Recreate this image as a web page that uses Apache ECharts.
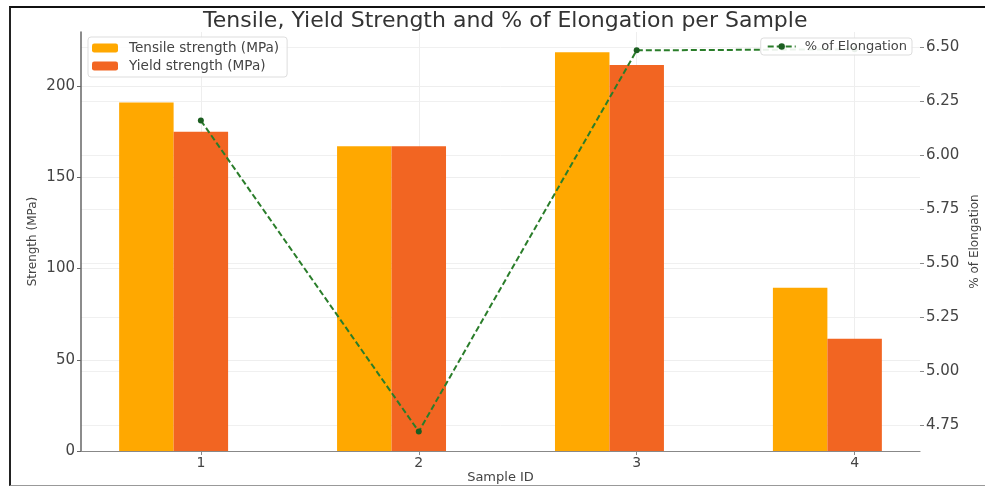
<!DOCTYPE html>
<html><head><meta charset="utf-8">
<script src="https://cdn.jsdelivr.net/npm/echarts@6/dist/echarts.min.js"></script>
<style>
html,body{margin:0;padding:0;background:#fff;}
#chart{width:985px;height:487px;position:absolute;left:0;top:0;}
#frame{position:absolute;left:9px;top:6px;width:976px;height:480px;border-top:2px solid #111;border-left:2px solid #222;border-bottom:1px solid #999;pointer-events:none;box-sizing:border-box;}
</style>
</head><body><div id="chart"></div><div id="frame"></div>
<script>
const sampleIds = [1, 2, 3, 4];
const tensile = [191, 167, 218.5, 89.5];
const yieldStrength = [175, 167, 211.5, 61.5];
const elongation = [6.16, 4.72, 6.485, 6.49];
const strengthTicks = [0, 50, 100, 150, 200];
const elongTicks = [4.75, 5.00, 5.25, 5.50, 5.75, 6.00, 6.25, 6.50];

const FONT = 'DejaVu Sans';
const pair = arr => arr.map((v, i) => [sampleIds[i], v]);

const chart = echarts.init(document.getElementById('chart'), null, {renderer: 'canvas'});
chart.setOption({
  animation: false,
  backgroundColor: '#fff',
  textStyle: {fontFamily: FONT},
  title: {
    text: 'Tensile, Yield Strength and % of Elongation per Sample',
    left: 198, top: 5,
    textStyle: {fontFamily: FONT, fontSize: 22, fontWeight: 'normal', color: '#333'}
  },
  grid: {left: 81, right: 65, top: 32, bottom: 36, containLabel: false, outerBoundsMode: 'none'},
  legend: [{
    data: ['Tensile strength (MPa)', 'Yield strength (MPa)'],
    orient: 'vertical', left: 88, top: 37,
    itemWidth: 26, itemHeight: 9, itemGap: 4,
    backgroundColor: 'rgba(255,255,255,0.85)', borderColor: '#ddd', borderWidth: 1, borderRadius: 3,
    padding: [4, 8, 4, 4],
    textStyle: {fontFamily: FONT, fontSize: 13.6, color: '#444', padding: [0, 0, 0, 6]}
  }, {
    data: ['% of Elongation'],
    right: 73, top: 38,
    itemWidth: 28, itemHeight: 8,
    backgroundColor: 'rgba(255,255,255,0.9)', borderColor: '#ddd', borderWidth: 1, borderRadius: 3,
    padding: [2, 5, 2, 6],
    textStyle: {fontFamily: FONT, fontSize: 13, color: '#444', padding: [0, 0, 0, 4]}
  }],
  xAxis: {
    type: 'value', min: 0.45, max: 4.3,
    name: 'Sample ID', nameLocation: 'middle', nameGap: 20, nameMoveOverlap: false,
    nameTextStyle: {fontFamily: FONT, fontSize: 13, color: '#444'},
    axisLine: {show: true, lineStyle: {color: '#888', width: 1.2}},
    axisTick: {show: true, customValues: sampleIds, length: 4, lineStyle: {color: '#888'}},
    axisLabel: {customValues: sampleIds, fontFamily: FONT, fontSize: 14, color: '#444', margin: 5},
    splitLine: {show: true, lineStyle: {color: '#eeeeee', width: 1}}
  },
  yAxis: [{
    type: 'value', min: 0, max: 229.6, position: 'left',
    name: 'Strength (MPa)', nameLocation: 'middle', nameGap: 42, nameRotate: 90, nameMoveOverlap: false,
    nameTextStyle: {fontFamily: FONT, fontSize: 12, color: '#444'},
    axisLine: {show: true, lineStyle: {color: '#666', width: 1.5}},
    axisTick: {show: true, customValues: strengthTicks, length: 4, lineStyle: {color: '#666'}},
    axisLabel: {customValues: strengthTicks, fontFamily: FONT, fontSize: 15, color: '#444', margin: 6},
    splitLine: {show: true, lineStyle: {color: '#eeeeee', width: 1}}
  }, {
    type: 'value', min: 4.63, max: 6.57, position: 'right',
    name: '% of Elongation', nameLocation: 'middle', nameGap: 49, nameRotate: 90, nameMoveOverlap: false,
    nameTextStyle: {fontFamily: FONT, fontSize: 12, color: '#444'},
    axisLine: {show: false},
    axisTick: {show: true, customValues: elongTicks, length: 4, lineStyle: {color: '#888'}},
    axisLabel: {customValues: elongTicks, formatter: v => v.toFixed(2), fontFamily: FONT, fontSize: 15, color: '#444', margin: 6},
    splitLine: {show: true, lineStyle: {color: '#f0f0f0', width: 1}}
  }],
  series: [{
    name: 'Tensile strength (MPa)', type: 'bar', yAxisIndex: 0,
    data: pair(tensile), barWidth: '25%', barGap: '0%',
    itemStyle: {color: '#FFA800'}
  }, {
    name: 'Yield strength (MPa)', type: 'bar', yAxisIndex: 0,
    data: pair(yieldStrength), barWidth: '25%', barGap: '0%',
    itemStyle: {color: '#F26522'}
  }, {
    name: 'spacer', type: 'bar', yAxisIndex: 0,
    data: [], barWidth: '25%', barGap: '0%'
  }, {
    name: '% of Elongation', type: 'line', yAxisIndex: 1,
    data: pair(elongation), z: 3,
    symbol: 'circle', symbolSize: 6,
    lineStyle: {color: '#2A7D2A', width: 2, type: [6, 3]},
    itemStyle: {color: '#1B5E20'}
  }]
});
</script>
</body></html>
